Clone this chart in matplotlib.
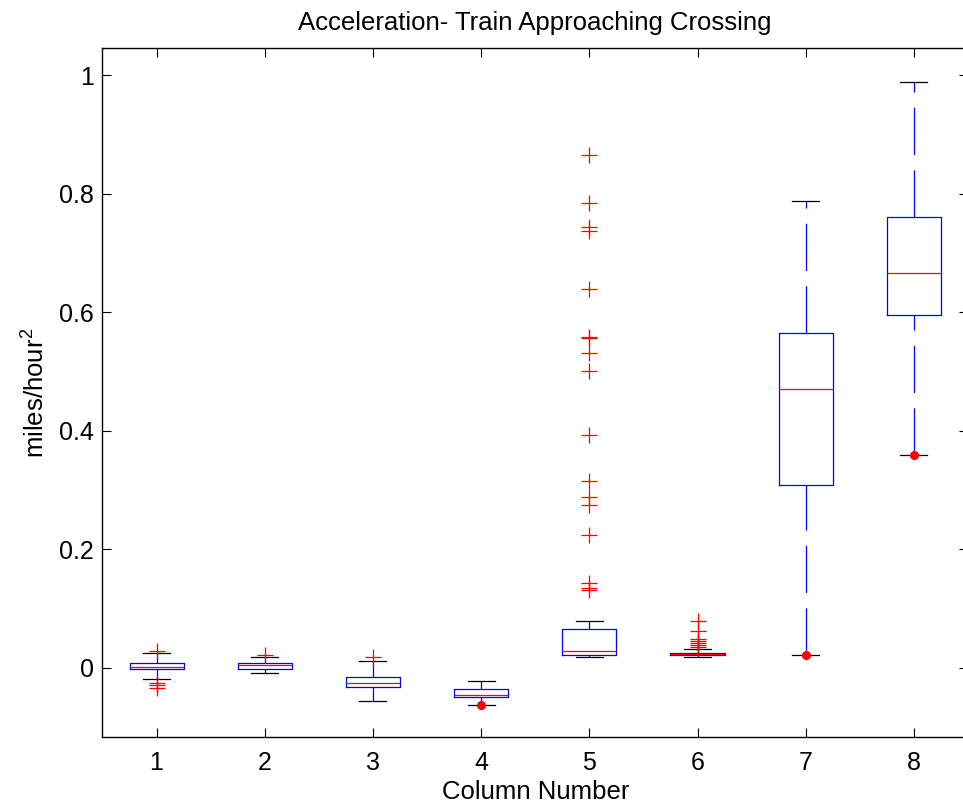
import matplotlib
matplotlib.use("Agg")
import matplotlib.pyplot as plt
import numpy as np

plt.rcParams['font.family'] = ['Liberation Sans', 'DejaVu Sans']
plt.rcParams['mathtext.fontset'] = 'custom'
plt.rcParams['mathtext.rm'] = 'Liberation Sans'
plt.rcParams['mathtext.default'] = 'regular'
plt.rcParams['lines.scale_dashes'] = False

# box statistics, one value per column
columns = [1, 2, 3, 4, 5, 6, 7, 8]
q1 = [-0.002, -0.0015, -0.0327, -0.049, 0.0214, 0.0214, 0.309, 0.596]
medians = [0.0017, 0.0045, -0.0254, -0.0456, 0.0287, 0.0236, 0.471, 0.667]
q3 = [0.0084, 0.0087, -0.0158, -0.036, 0.0653, 0.0248, 0.565, 0.761]
whisk_lo = [-0.0186, -0.009, -0.0557, -0.063, 0.0186, 0.0186, 0.022, 0.360]
whisk_hi = [0.025, 0.018, 0.0113, -0.0225, 0.0794, 0.032, 0.788, 0.988]

out1 = [0.029, -0.026, -0.029, -0.033]
out2 = [0.0215]
out3 = [0.018]
out4 = []
out5 = [0.866, 0.785, 0.744, 0.738, 0.640, 0.559, 0.556, 0.532, 0.501,
        0.393, 0.315, 0.288, 0.275, 0.224, 0.143, 0.135, 0.131]
out6 = [0.079, 0.063, 0.049, 0.0456, 0.042, 0.0388, 0.0354]
out7 = []
out8 = []
outliers = [out1, out2, out3, out4, out5, out6, out7, out8]

# red dots at the lower whisker ends
dot_cols = [4, 7, 8]
dot_vals = [-0.063, 0.022, 0.360]

stats = []
for i in range(len(columns)):
    stats.append(dict(med=medians[i], q1=q1[i], q3=q3[i],
                      whislo=whisk_lo[i], whishi=whisk_hi[i],
                      fliers=np.array(outliers[i])))

fig = plt.figure(figsize=(9.63, 8.06), dpi=100)
ax = fig.add_axes([0.1064, 0.0856, 0.8988, 0.8548])

dash = (0, (34, 11))
bp = ax.bxp(stats, positions=columns, widths=0.5, capwidths=0.25,
            boxprops=dict(color='blue', linewidth=0.9),
            medianprops=dict(color='red', linewidth=0.9),
            whiskerprops=dict(color='blue', linewidth=0.9, linestyle=dash),
            capprops=dict(color='black', linewidth=0.9),
            flierprops=dict(marker='+', markeredgecolor='red', markersize=12,
                            markeredgewidth=0.9, linestyle='none'))

# lower whiskers are drawn from the end up to the box, as in the original
for k, w in enumerate(bp['whiskers']):
    if k % 2 == 0:
        w.set_ydata(w.get_ydata()[::-1])

ax.plot(dot_cols, dot_vals, 'o', color='red', markersize=5.5, linestyle='none')

ax.set_xlim(0.5, 8.5)
ax.set_ylim(-0.1165, 1.046)
ax.set_xticks(columns)
ax.set_xticklabels([str(c) for c in columns])
ax.set_yticks([0, 0.2, 0.4, 0.6, 0.8, 1])
ax.set_yticklabels(['0', '0.2', '0.4', '0.6', '0.8', '1'])
ax.tick_params(direction='in', top=True, right=True, length=6.5, width=0.8,
               labelsize=18)
ax.tick_params(axis='x', pad=10)
ax.tick_params(axis='y', pad=6)
for s in ax.spines.values():
    s.set_linewidth(1.0)

ax.set_title('Acceleration- Train Approaching Crossing', fontsize=18.5, pad=13)
ax.set_xlabel('Column Number', fontsize=18.5, labelpad=4)
ax.set_ylabel('miles/hour$^2$', fontsize=18.5, labelpad=7)

fig.savefig('out.png', dpi=100)
